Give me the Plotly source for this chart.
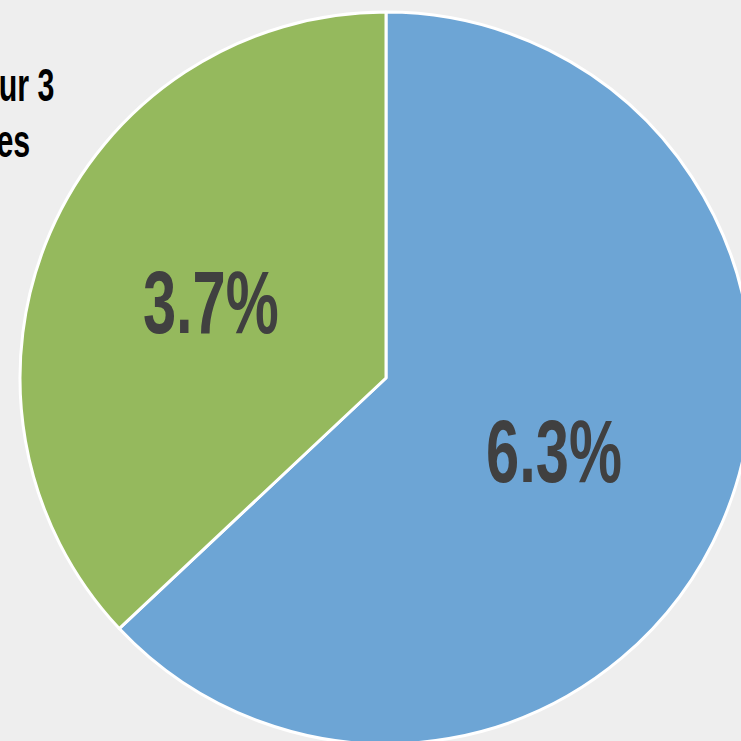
import plotly.graph_objects as go

labels = ["Blue share", "Green share"]
values = [6.3, 3.7]
colors = ["#6DA5D5", "#95B95D"]
texts = ["6.3%", "3.7%"]
note_lines = ["ur 3", "es"]

W, H = 800, 800
fig = go.Figure(go.Pie(
    labels=labels,
    values=values,
    text=texts,
    textinfo="text",
    textposition="inside",
    insidetextorientation="horizontal",
    sort=False,
    direction="clockwise",
    rotation=0,
    marker=dict(colors=colors, line=dict(color="white", width=3)),
    textfont=dict(family="Liberation Sans, Arial, sans-serif", size=89, color="#404040", weight="bold"),
    domain=dict(x=[20 / W, 752 / W], y=[1 - 744 / H, 1 - 12 / H]),
    showlegend=False,
    hoverinfo="skip",
))

fig.add_annotation(text=note_lines[0], x=56 / W, y=1 - 85 / H, xref="paper", yref="paper",
                   xanchor="right", yanchor="middle", showarrow=False,
                   font=dict(family="Liberation Sans, sans-serif", size=46, color="#000000", weight="bold"))
fig.add_annotation(text=note_lines[1], x=32 / W, y=1 - 141 / H, xref="paper", yref="paper",
                   xanchor="right", yanchor="middle", showarrow=False,
                   font=dict(family="Liberation Sans, sans-serif", size=46, color="#000000", weight="bold"))

fig.update_layout(
    width=W, height=H,
    margin=dict(l=0, r=0, t=0, b=0),
    paper_bgcolor="#eeeeee",
    plot_bgcolor="#eeeeee",
)

post = """
document.documentElement.style.overflow='hidden';
document.body.style.overflow='hidden';
document.body.style.margin='0';
function condense(el, s, anchor){
  var b = el.getBBox();
  var cx = anchor === 'right' ? b.x + b.width : b.x + b.width / 2;
  var t = el.getAttribute('transform') || '';
  el.setAttribute('transform', t + ' translate(' + cx + ',0) scale(' + s + ',1) translate(' + (-cx) + ',0)');
}
document.querySelectorAll('text.slicetext').forEach(function(el){ condense(el, 0.67, 'center'); });
document.querySelectorAll('text.annotation-text').forEach(function(el){ condense(el, 0.66, 'right'); });
"""

fig.write_html("out.html", post_script=post)
